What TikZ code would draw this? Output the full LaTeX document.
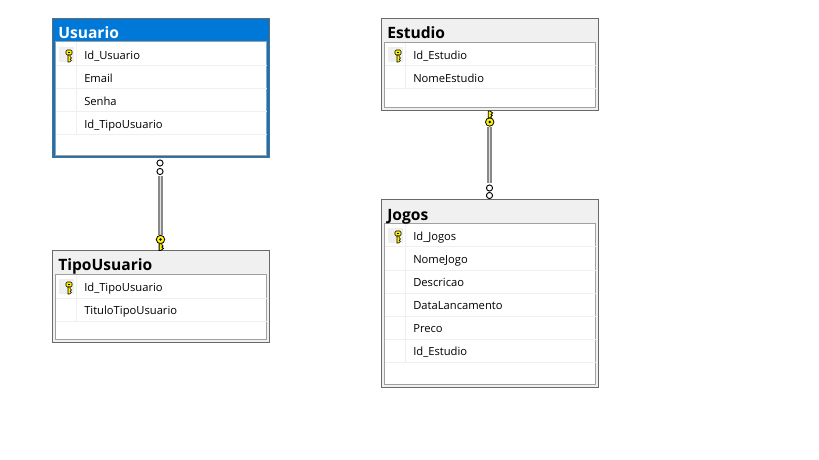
\documentclass[tikz,border=0pt]{standalone}
\usepackage{fontspec}
\setmainfont{Open Sans}
\usetikzlibrary{calc}
\definecolor{headgray}{HTML}{F0F0F0}
\definecolor{edgegray}{HTML}{696969}
\definecolor{innergray}{HTML}{A0A0A0}
\definecolor{rowgray}{HTML}{EFEFEF}
\definecolor{selblue}{HTML}{0078D7}
\definecolor{keyyellow}{HTML}{FFF200}
\tikzset{
    tablebox/.style={draw=edgegray, line width=0.75pt, fill=headgray, anchor=north west, inner sep=0pt, outer sep=0pt},
    selbox/.style={tablebox, line width=1.2pt, fill=selblue},
    innerbox/.style={draw=innergray, line width=0.75pt, fill=white, anchor=north west, inner sep=0pt, outer sep=0pt},
    titletext/.style={anchor=base west, inner sep=0pt, font=\fontsize{11.7}{12}\selectfont\bfseries},
    rowtext/.style={anchor=base west, inner sep=0pt, font=\fontsize{8.4}{10}\selectfont},
    rowline/.style={draw=rowgray, line width=0.75pt},
    keycell/.style={fill=rowgray, draw=none, anchor=center, minimum width=11.25pt, minimum height=11.25pt, inner sep=0pt},
    relline/.style={draw=innergray!85!black, line width=3.3pt},
    relinner/.style={draw=white!88!black, line width=1.1pt},
    ringend/.style={circle, draw=black, fill=white, line width=0.7pt, minimum size=4.6pt, inner sep=0pt},
    pics/tablekey/.style={code={
        \draw[black, fill=keyyellow, line width=0.4pt, rounded corners=1pt] (-3,-6) rectangle (3,-1);
        \fill[black] (-0.9,-4.2) rectangle (0.9,-3);
        \draw[black, fill=keyyellow, line width=0.4pt] (-1,-1)--(-1,6)--(0.6,6)--(2.4,4.4)--(1.2,3.2)--(2.4,2)--(1.2,0.8)--(1.2,-1)--cycle;
    }},
    pics/relkey/.style={code={
        \draw[black, fill=keyyellow, line width=0.6pt] (0,0) circle (4.2);
        \fill[black] (0,0) circle (1.4);
        \draw[black, fill=keyyellow, line width=0.6pt] (-1.4,4.2)--(-1.4,11)--(0.3,11)--(3,9)--(1.4,7.6)--(2.6,6.6)--(1.4,5.6)--(1.4,4.2)--cycle;
    }}
}
\begin{document}
\begin{tikzpicture}[x=0.75pt, y=-0.75pt]
    \useasboundingbox (0,0) rectangle (819,460);
    % Usuario
    \node[selbox, minimum width=162.75pt, minimum height=104.25pt] (usuario) at (52.5,18.5) {};
    \node[innerbox, minimum width=158.25pt, minimum height=85.1pt] (usuarioBody) at (55.5,42) {};
    \node[titletext, text=white] (usuarioTitle) at (58,39) {Usuario};
    \draw[rowline] (usuarioBody.west |- 0,66)--(usuarioBody.east |- 0,66);
    \draw[rowline] (usuarioBody.west |- 0,89)--(usuarioBody.east |- 0,89);
    \draw[rowline] (usuarioBody.west |- 0,112)--(usuarioBody.east |- 0,112);
    \draw[rowline] (usuarioBody.west |- 0,135)--(usuarioBody.east |- 0,135);
    \draw[rowline] (76,42.5)--(76,135);
    \node[keycell] (usuarioCell) at (66.5,54.5) {};
    \pic at (69,56) {tablekey};
    \node[rowtext] (usuarioA) at (84,59.5) {Id\_Usuario};
    \node[rowtext] (usuarioB) at (84,82.5) {Email};
    \node[rowtext] (usuarioC) at (84,105.5) {Senha};
    \node[rowtext] (usuarioD) at (84,128.5) {Id\_TipoUsuario};
    % TipoUsuario
    \node[tablebox, minimum width=162.75pt, minimum height=68.9pt] (tipo) at (52.5,250.5) {};
    \node[innerbox, minimum width=158.25pt, minimum height=48.75pt] (tipoBody) at (55.5,274.5) {};
    \node[titletext] (tipoTitle) at (58,271) {TipoUsuario};
    \draw[rowline] (tipoBody.west |- 0,298)--(tipoBody.east |- 0,298);
    \draw[rowline] (tipoBody.west |- 0,321)--(tipoBody.east |- 0,321);
    \draw[rowline] (76,275)--(76,321);
    \node[keycell] (tipoCell) at (66.5,286.5) {};
    \pic at (69,288) {tablekey};
    \node[rowtext] (tipoA) at (84,291.5) {Id\_TipoUsuario};
    \node[rowtext] (tipoB) at (84,314.5) {TituloTipoUsuario};
    % Estudio
    \node[tablebox, minimum width=162.75pt, minimum height=68.9pt] (estudio) at (381.5,18.5) {};
    \node[innerbox, minimum width=158.25pt, minimum height=48.75pt] (estudioBody) at (384.5,42.5) {};
    \node[titletext] (estudioTitle) at (387,39) {Estudio};
    \draw[rowline] (estudioBody.west |- 0,66)--(estudioBody.east |- 0,66);
    \draw[rowline] (estudioBody.west |- 0,89)--(estudioBody.east |- 0,89);
    \draw[rowline] (405.5,43)--(405.5,89);
    \node[keycell] (estudioCell) at (395.5,54.5) {};
    \pic at (398,56) {tablekey};
    \node[rowtext] (estudioA) at (413,59.5) {Id\_Estudio};
    \node[rowtext] (estudioB) at (413,82.5) {NomeEstudio};
    % Jogos
    \node[tablebox, minimum width=162.75pt, minimum height=140.9pt] (jogos) at (381.5,199.5) {};
    \node[innerbox, minimum width=158.25pt, minimum height=120.75pt] (jogosBody) at (384.5,223.5) {};
    \node[titletext] (jogosTitle) at (387,220.5) {Jogos};
    \draw[rowline] (jogosBody.west |- 0,247)--(jogosBody.east |- 0,247);
    \draw[rowline] (jogosBody.west |- 0,270)--(jogosBody.east |- 0,270);
    \draw[rowline] (jogosBody.west |- 0,293)--(jogosBody.east |- 0,293);
    \draw[rowline] (jogosBody.west |- 0,316)--(jogosBody.east |- 0,316);
    \draw[rowline] (jogosBody.west |- 0,339)--(jogosBody.east |- 0,339);
    \draw[rowline] (jogosBody.west |- 0,362)--(jogosBody.east |- 0,362);
    \draw[rowline] (405.5,224)--(405.5,362);
    \node[keycell] (jogosCell) at (395.5,235.5) {};
    \pic at (398,237) {tablekey};
    \node[rowtext] (jogosA) at (413,240.5) {Id\_Jogos};
    \node[rowtext] (jogosB) at (413,263.5) {NomeJogo};
    \node[rowtext] (jogosC) at (413,286.5) {Descricao};
    \node[rowtext] (jogosD) at (413,309.5) {DataLancamento};
    \node[rowtext] (jogosE) at (413,332.5) {Preco};
    \node[rowtext] (jogosF) at (413,355.5) {Id\_Estudio};
    % relationships
    \coordinate (usuarioEnd) at (160.5,158);
    \coordinate (tipoEnd) at (160.5,250);
    \coordinate (estudioEnd) at (489.5,110);
    \coordinate (jogosEnd) at (489.5,199);
    \draw[relline, shorten <=13.5pt, shorten >=11.25pt] (usuarioEnd)--(tipoEnd);
    \draw[relinner, shorten <=13.5pt, shorten >=11.25pt] (usuarioEnd)--(tipoEnd);
    \draw[relline, shorten <=12.75pt, shorten >=12pt] (estudioEnd)--(jogosEnd);
    \draw[relinner, shorten <=12.75pt, shorten >=12pt] (estudioEnd)--(jogosEnd);
    \node[ringend] (usuarioRingA) at (160,163) {};
    \node[ringend] (usuarioRingB) at (160,171.5) {};
    \node[ringend] (jogosRingA) at (489.5,188) {};
    \node[ringend] (jogosRingB) at (489.5,195.5) {};
    \pic at (160.5,239.5) {relkey};
    \pic[yscale=-1] at (489.7,122) {relkey};
\end{tikzpicture}
\end{document}
